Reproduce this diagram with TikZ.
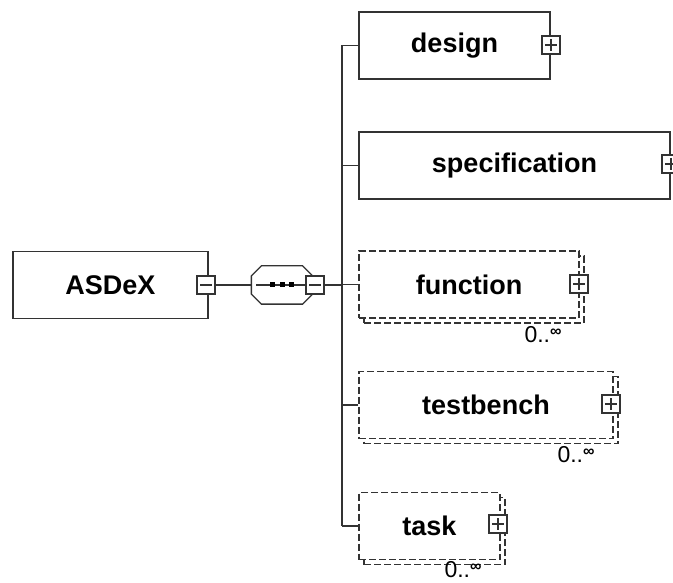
\documentclass[tikz,border=0pt]{standalone}
\usepackage{fontspec}
\setmainfont{Liberation Sans}
\usepackage{tikz}
\usetikzlibrary{shadows}

\tikzset{
  elem/.style={draw=black!80,fill=white,rectangle,inner sep=0pt,minimum height=67pt,
    font=\fontsize{27}{27}\selectfont\bfseries},
  optelem/.style={elem,dash pattern=on 7pt off 3pt,
    general shadow={draw=black!80,dash pattern=on 7pt off 3pt,fill=white,shadow xshift=5pt,shadow yshift=-5pt}},
  minusbox/.style={draw=black!80,fill=white,rectangle,minimum size=18pt,inner sep=0pt,
    path picture={\draw[black!80] ([xshift=3pt]path picture bounding box.west) -- ([xshift=-3pt]path picture bounding box.east);}},
  plusbox/.style={draw=black!80,fill=white,rectangle,minimum size=18pt,inner sep=0pt,
    path picture={\draw[black!80] ([xshift=3pt]path picture bounding box.west) -- ([xshift=-3pt]path picture bounding box.east);
      \draw[black!80] ([yshift=-3pt]path picture bounding box.north) -- ([yshift=3pt]path picture bounding box.south);}},
  occurs/.style={font=\fontsize{23}{23}\selectfont,inner sep=0pt},
  link/.style={draw=black!80,line width=1.3pt}
}

\newcommand{\zeroinf}{0..\raisebox{0.3em}{\fontsize{16}{16}\selectfont\bfseries ∞}}

\begin{document}
\begin{tikzpicture}[x=1pt,y=-1pt,line width=1.3pt]
\useasboundingbox (0,0) rectangle (673,583);

%root element
\node[elem,minimum width=195pt] (asdex) at (110.5,285) {ASDeX};
\node[minusbox] (asdexm) at (206,285) {};

%sequence compositor
\node[rectangle,minimum width=60pt,minimum height=37pt,inner sep=0pt] (seq) at (282,285) {};
\draw[draw=black!80,fill=white] ([xshift=10pt]seq.north west) -- ([xshift=-10pt]seq.north east)
  -- ([yshift=-10pt]seq.north east) -- ([yshift=10pt]seq.south east)
  -- ([xshift=-10pt]seq.south east) -- ([xshift=10pt]seq.south west)
  -- ([yshift=10pt]seq.south west) -- ([yshift=-10pt]seq.north west) -- cycle;
\draw[link] ([xshift=5pt]seq.west) -- ([xshift=-5pt]seq.east);
\foreach \dx in {-10,0,9}
  \fill ([xshift=\dx pt]seq.center) +(-2.5,-2.5) rectangle +(2.5,2.5);
\node[minusbox] (seqm) at (315,285) {};
\draw[link] (asdexm.east) -- (seq.west);

%child elements
\node[elem,minimum width=191pt] (design) at (454.5,45.5) {design};
\node[plusbox] (designp) at (551,45) {};
\node[elem,minimum width=311pt] (spec) at (514.5,165.5) {specification};
\node[plusbox] (specp) at (671,164) {};
\node[optelem,minimum width=220pt] (function) at (469,284.5) {function};
\node[plusbox] (functionp) at (579,284) {};
\node[optelem,minimum width=254pt] (testbench) at (486,405) {testbench};
\node[plusbox] (testbenchp) at (611,404) {};
\node[optelem,minimum width=141pt] (task) at (429.5,526) {task};
\node[plusbox] (taskp) at (498,524) {};

%occurrence labels
\node[occurs] (functiono) at (543,335) {\zeroinf};
\node[occurs] (testbencho) at (576,455) {\zeroinf};
\node[occurs] (tasko) at (463,570) {\zeroinf};

%bus to the children
\coordinate (bus) at (342,285);
\draw[link] (seqm.east) -- (bus);
\draw[link] (bus |- design.west) -- (bus |- task.west);
\foreach \c in {design,spec,function,testbench,task}
  \draw[link] (\c.west) -- (bus |- \c.west);

\end{tikzpicture}
\end{document}
